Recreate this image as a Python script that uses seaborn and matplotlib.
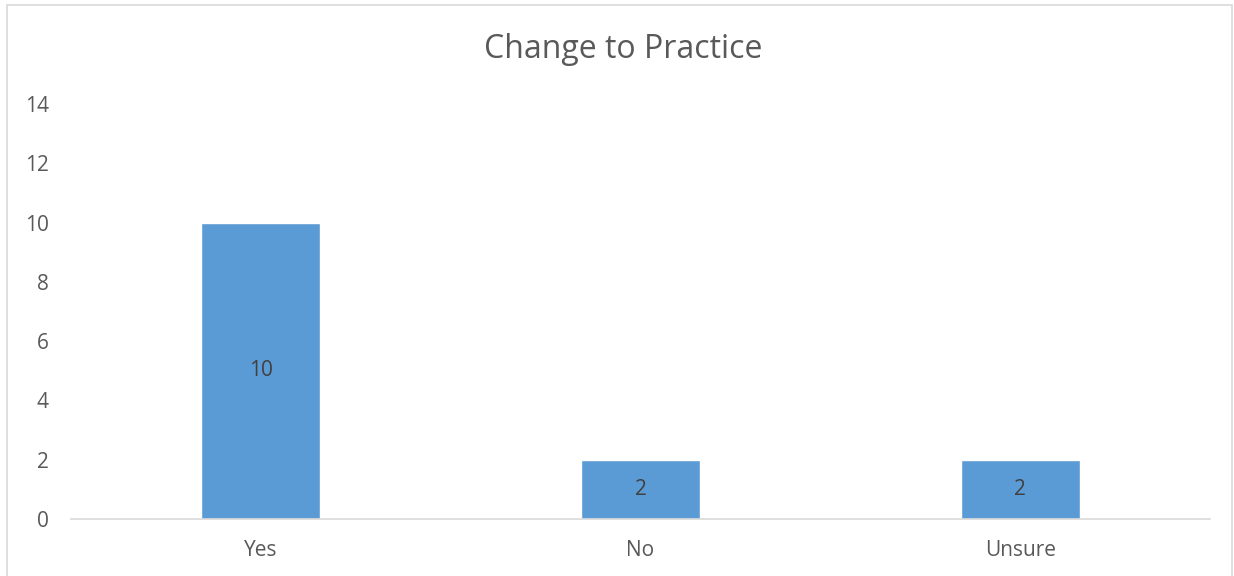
import matplotlib
matplotlib.use("Agg")
import matplotlib.pyplot as plt
import seaborn as sns
import pandas as pd
from matplotlib.patches import Rectangle

# Chart data
categories = ["Yes", "No", "Unsure"]
counts = [10, 2, 2]
y_ticks = [0, 2, 4, 6, 8, 10, 12, 14]

df = pd.DataFrame({"answer": categories, "count": counts})

sns.set_style("white")
plt.rcParams["font.family"] = ["Open Sans", "DejaVu Sans"]

fig = plt.figure(figsize=(12.34, 5.76), dpi=100)
ax = fig.add_axes([71 / 1234, 1 - 519 / 576, (1210 - 71) / 1234, (519 - 104) / 576])

sns.barplot(data=df, x="answer", y="count", color="#5B9BD5", width=0.313,
            saturation=1, ax=ax)

# labels in the middle of each bar
for c in ax.containers:
    ax.bar_label(c, label_type="center", fontsize=15, color="#404040")

ax.set_ylim(0, 14)
ax.set_yticks(y_ticks)
ax.set_xlim(-0.5, 2.5)
ax.set_xlabel("")
ax.set_ylabel("")
ax.tick_params(axis="both", length=0, labelsize=15, labelcolor="#595959")
ax.tick_params(axis="y", pad=16)
ax.tick_params(axis="x", pad=15)

for s in ["top", "right", "left"]:
    ax.spines[s].set_visible(False)
ax.spines["bottom"].set_color("#D9D9D9")
ax.spines["bottom"].set_linewidth(1.2)

fig.text(623 / 1234, 1 - 50 / 576, "Change to Practice", ha="center", va="center",
         fontsize=23, color="#595959")

# outer chart frame
fig.patches.append(Rectangle((7 / 1234, -0.05), (1232 - 7) / 1234, 1.05 - 5 / 576,
                             transform=fig.transFigure, fill=False,
                             edgecolor="#D9D9D9", linewidth=1.2))

fig.savefig("out.png", dpi=100)
